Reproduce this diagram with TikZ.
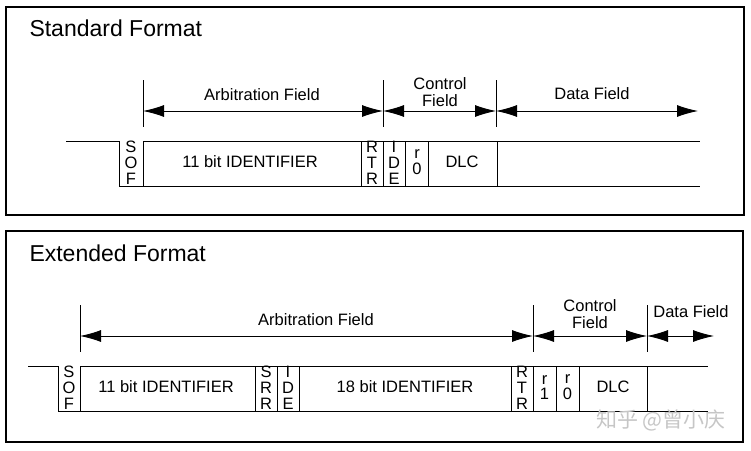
\documentclass[tikz,border=0pt]{standalone}
\usepackage{fontspec}
\setmainfont{Liberation Sans}
\newfontfamily\cjkfont{Noto Sans CJK SC}
\usepackage{tikz}
\usetikzlibrary{arrows.meta}
\usetikzlibrary{positioning}
\newcommand{\bitcol}[1]{%
\begin{tabular}{@{}c@{}}
#1
\end{tabular}
}
\tikzset{
    frame/.style={line width=1.3pt},
    dimarrow/.style={line width=0.9pt,{Latex[length=21pt,width=12pt]}-{Latex[length=21pt,width=12pt]}},
    lbl/.style={inner sep=0pt,align=center,font=\fontsize{16.5}{17}\selectfont},
    bits/.style={inner sep=0pt,font=\fontsize{16.5}{14.8}\selectfont},
    heading/.style={inner sep=0pt,anchor=west,font=\fontsize{23}{24}\selectfont}
}

\begin{document}
\begin{tikzpicture}[x=1pt,y=-1pt,line width=1pt]
    \useasboundingbox (0,0) rectangle (751,450);
    \draw[frame] (6,7) rectangle (744,215);
    \draw[frame,line width=2pt] (6,231) rectangle (743,442);

    \node[heading] (title1) at (29,28) {Standard Format};
    \foreach \x/\n in {143/sa,383/sb,496/sc,698/sd}
    \coordinate (\n) at (\x,111);
    \foreach \n in {sa,sb,sc}
    \draw (\n) ++(0,-31) -- ++(0,47);
    \draw[dimarrow] (sa) -- (sb);
    \draw[dimarrow] (sb) -- (sc);
    \draw[dimarrow] (sc) -- (sd);
    \node[lbl] (arb1) at (262,95) {Arbitration Field};
    \node[lbl] (ctl1) at (440,92) {Control\\Field};
    \node[lbl] (dat1) at (592,94) {Data Field};
    \draw (66,141) -| (119,186) -- (700,186);
    \draw (143,141) -- (700,141);
    \foreach \x in {119,143,361,383,405,428,497}
    \draw (\x,141) -- (\x,186);
    \node[bits] (sof1) at (131,165) {\bitcol{S\\O\\F}};
    \node[bits] (id1) at (250,162) {11 bit IDENTIFIER};
    \node[bits] (rtr1) at (372,165) {\bitcol{R\\T\\R}};
    \node[bits] (ide1) at (394,165) {\bitcol{I\\D\\E}};
    \node[bits] (rz1) at (417,164) {\bitcol{r\\0}};
    \node[bits] (dlc1) at (462,162) {DLC};

    \node[heading] (title2) at (29,253) {Extended Format};
    \foreach \x/\n in {80/ea,533/eb,647/ec,714/ed}
    \coordinate (\n) at (\x,336);
    \foreach \n in {ea,eb,ec}
    \draw (\n) ++(0,-31) -- ++(0,47);
    \draw[dimarrow] (ea) -- (eb);
    \draw[dimarrow] (eb) -- (ec);
    \draw[dimarrow] (ec) -- (ed);
    \node[lbl] (arb2) at (316,320) {Arbitration Field};
    \node[lbl] (ctl2) at (590,314) {Control\\Field};
    \node[lbl] (dat2) at (691,312) {Data Field};
    \draw (28,366) -| (58,411) -- (708,411);
    \draw (80,366) -- (708,366);
    \foreach \x in {58,80,255,277,299,511,533,556,579,647}
    \draw (\x,366) -- (\x,411);
    \node[bits] (sof2) at (69,390) {\bitcol{S\\O\\F}};
    \node[bits] (id2) at (166,387) {11 bit IDENTIFIER};
    \node[bits] (srr2) at (266,390) {\bitcol{S\\R\\R}};
    \node[bits] (ide2) at (288,390) {\bitcol{I\\D\\E}};
    \node[bits] (ext2) at (405,387) {18 bit IDENTIFIER};
    \node[bits] (rtr2) at (522,390) {\bitcol{R\\T\\R}};
    \node[bits] (ro2) at (544.5,389) {\bitcol{r\\1}};
    \node[bits] (rz2) at (567.5,389) {\bitcol{r\\0}};
    \node[bits] (dlc2) at (613,387) {DLC};
    \node[inner sep=0pt,text=gray!45,font=\cjkfont\fontsize{21}{24}\selectfont] (mark) at (661,420) {知乎 @曾小庆};
\end{tikzpicture}
\end{document}
